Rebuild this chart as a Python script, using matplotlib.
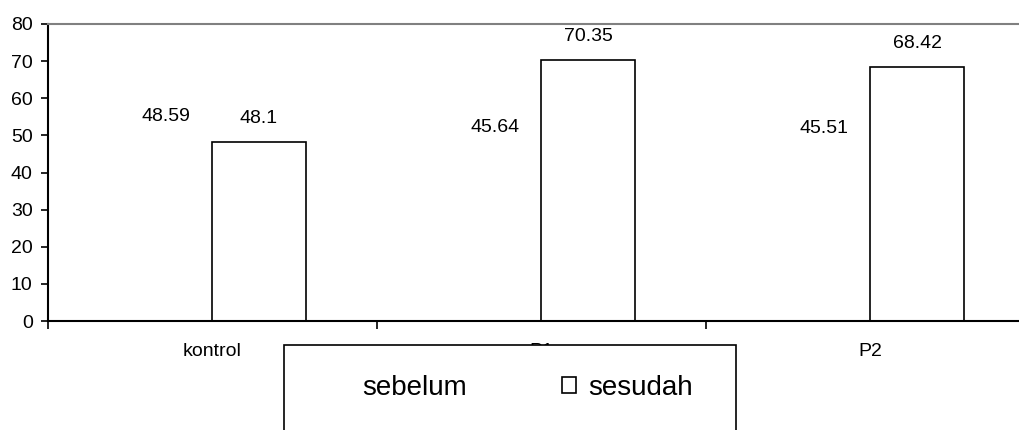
import numpy as np
import matplotlib.pyplot as plt
from matplotlib.patches import Rectangle

plt.rcParams['font.family'] = ['Liberation Sans', 'DejaVu Sans']

# data
groups = ["kontrol", "P1", "P2"]
sebelum = [48.59, 45.64, 45.51]
sesudah = [48.1, 70.35, 68.42]

x = np.arange(len(groups))
w = 0.283

fig = plt.figure(figsize=(10.2, 4.3), dpi=100)
ax = fig.add_axes([48/1020, 109/430, 987/1020, 297/430])

b1 = ax.bar(x - w/2, sebelum, w, color="white", edgecolor="none", label="sebelum")
b2 = ax.bar(x + w/2, sesudah, w, color="white", edgecolor="black", linewidth=1.2, label="sesudah")
ax.bar_label(b1, fmt="{:g}", padding=11, fontsize=14)
ax.bar_label(b2, fmt="{:g}", padding=11, fontsize=14)

ax.set_xlim(-0.5, 2.5)
ax.set_ylim(0, 80)
ax.set_yticks(range(0, 81, 10))
ax.set_xticks(x)
ax.set_xticklabels(groups, fontsize=14)
ax.tick_params(axis="x", length=0, pad=16)
ax.set_xticks([-0.5, 0.5, 1.5, 2.5], minor=True)
ax.tick_params(axis="x", which="minor", length=6, width=1.2, direction="out")
ax.tick_params(axis="y", labelsize=14, length=5, width=1.2, pad=6)

ax.spines["left"].set_linewidth(1.5)
ax.spines["bottom"].set_linewidth(1.5)
ax.spines["top"].set_color("gray")
ax.spines["top"].set_linewidth(1.5)
ax.spines["right"].set_visible(False)

# legend box (covers the middle tick label like the original)
box = Rectangle((284/1020, -0.01), 452/1020, 85/430 + 0.01, transform=fig.transFigure,
                facecolor="white", edgecolor="black", linewidth=1.2)
fig.patches.append(box)

leg = fig.legend(handles=[b1, b2], loc="center left", ncol=2,
                 bbox_to_anchor=(336/1020, 42/430), fontsize=20, frameon=False,
                 borderpad=0, borderaxespad=0, handlelength=0.5, handleheight=0.5,
                 handletextpad=0.43, columnspacing=3.45)

fig.savefig("out.png", dpi=100)
